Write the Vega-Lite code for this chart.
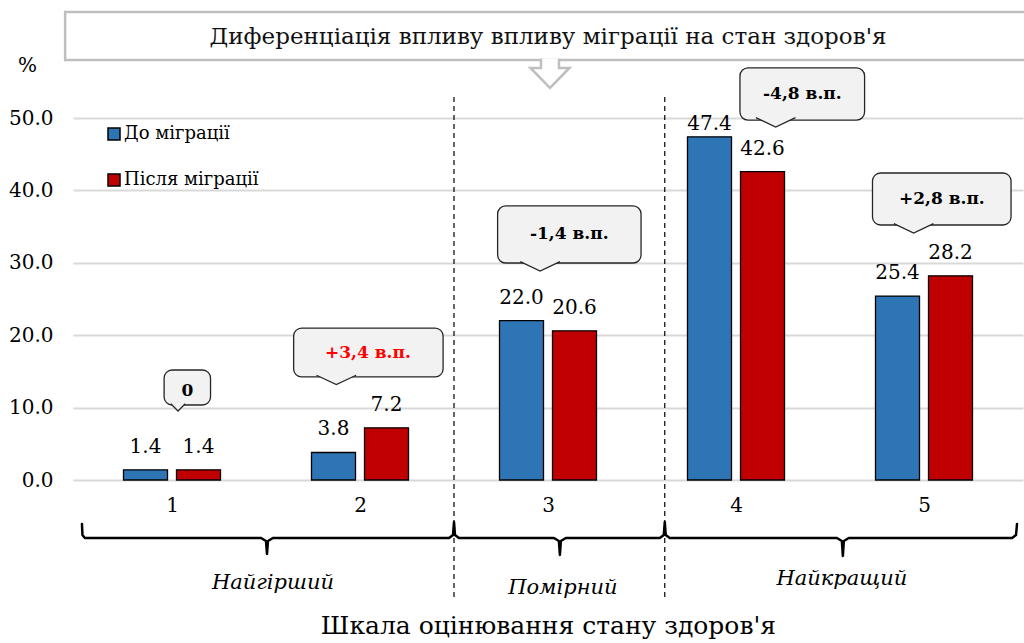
{
  "$schema": "https://vega.github.io/schema/vega-lite/v6.json",
  "width": 950,
  "height": 362,
  "autosize": {"type": "none"},
  "padding": {"left": 73, "top": 118, "right": 1, "bottom": 163},
  "config": {"view": {"stroke": null}, "font": "DejaVu Serif"},
  "resolve": {"axis": {"x": "independent", "y": "independent"}},
  "datasets": {
    "bars": [
      {"cat": 1, "series": "До міграції", "value": 1.4},
      {"cat": 1, "series": "Після міграції", "value": 1.4},
      {"cat": 2, "series": "До міграції", "value": 3.8},
      {"cat": 2, "series": "Після міграції", "value": 7.2},
      {"cat": 3, "series": "До міграції", "value": 22.0},
      {"cat": 3, "series": "Після міграції", "value": 20.6},
      {"cat": 4, "series": "До міграції", "value": 47.4},
      {"cat": 4, "series": "Після міграції", "value": 42.6},
      {"cat": 5, "series": "До міграції", "value": 25.4},
      {"cat": 5, "series": "Після міграції", "value": 28.2}
    ],
    "callouts": [
      {"label": "0", "x1": 0.958, "x2": 1.205, "y1": 15.19, "y2": 10.36, "tx": 1.082, "ty": 12.29, "px": 1.032, "py": 9.94},
      {"label": "+3,4  в.п.", "x1": 1.647, "x2": 2.442, "y1": 20.99, "y2": 14.23, "tx": 2.042, "ty": 17.61, "px": 1.874, "py": 13.74},
      {"label": "-1,4 в.п.", "x1": 2.732, "x2": 3.495, "y1": 37.85, "y2": 29.97, "tx": 3.113, "ty": 33.98, "px": 2.958, "py": 29.42},
      {"label": "-4,8 в.п.", "x1": 4.021, "x2": 4.684, "y1": 56.91, "y2": 49.72, "tx": 4.353, "ty": 53.38, "px": 4.211, "py": 49.31},
      {"label": "+2,8 в.п.", "x1": 4.726, "x2": 5.463, "y1": 42.40, "y2": 35.22, "tx": 5.095, "ty": 38.88, "px": 4.945, "py": 34.67}
    ],
    "braces": [
      {"o": 1, "bx": 0.5211, "by": -6.077},
      {"o": 2, "bx": 0.5237, "by": -7.597},
      {"o": 3, "bx": 0.5368, "by": -8.011},
      {"o": 4, "bx": 1.4737, "by": -8.011},
      {"o": 5, "bx": 1.5, "by": -8.425},
      {"o": 6, "bx": 1.5053, "by": -10.221},
      {"o": 7, "bx": 1.5105, "by": -8.425},
      {"o": 8, "bx": 1.5368, "by": -8.011},
      {"o": 9, "bx": 2.4737, "by": -8.011},
      {"o": 10, "bx": 2.4947, "by": -7.597},
      {"o": 11, "bx": 2.5, "by": -5.801},
      {"o": 12, "bx": 2.5053, "by": -7.597},
      {"o": 13, "bx": 2.5263, "by": -8.011},
      {"o": 14, "bx": 3.0316, "by": -8.011},
      {"o": 15, "bx": 3.0579, "by": -8.425},
      {"o": 16, "bx": 3.0632, "by": -10.359},
      {"o": 17, "bx": 3.0684, "by": -8.425},
      {"o": 18, "bx": 3.0947, "by": -8.011},
      {"o": 19, "bx": 3.5947, "by": -8.011},
      {"o": 20, "bx": 3.6158, "by": -7.597},
      {"o": 21, "bx": 3.6211, "by": -5.801},
      {"o": 22, "bx": 3.6263, "by": -7.597},
      {"o": 23, "bx": 3.6474, "by": -8.011},
      {"o": 24, "bx": 4.5368, "by": -8.011},
      {"o": 25, "bx": 4.5632, "by": -8.425},
      {"o": 26, "bx": 4.5684, "by": -10.497},
      {"o": 27, "bx": 4.5737, "by": -8.425},
      {"o": 28, "bx": 4.6, "by": -8.011},
      {"o": 29, "bx": 5.4684, "by": -8.011},
      {"o": 30, "bx": 5.4895, "by": -7.597},
      {"o": 31, "bx": 5.4947, "by": -6.077}
    ],
    "dividers": [
      {"dx": 2.5, "dy1": 52.9, "dy2": -16.57},
      {"dx": 3.6211, "dy1": 52.9, "dy2": -16.57}
    ],
    "groups": [
      {"label": "Найгірший", "gx": 1.5368, "gy": -14.23},
      {"label": "Помірний", "gx": 3.0789, "gy": -14.92},
      {"label": "Найкращий", "gx": 4.5632, "gy": -13.67}
    ],
    "title": [
      {"text": "Диференціація впливу впливу міграції на стан здоров'я", "x1": 0.4316, "x2": 5.54, "y1": 64.64, "y2": 58.01, "tx": 3.0, "ty": 61.19, "ax": 3.0105, "ay": 56.08}
    ]
  },
  "layer": [
    {
      "data": {"name": "bars"},
      "transform": [{"filter": "datum.series === 'До міграції'"}],
      "mark": {"type": "bar", "orient": "vertical", "width": 44, "xOffset": -26.5, "stroke": "#000", "strokeWidth": 1.3},
      "encoding": {
        "x": {
          "field": "cat", "type": "quantitative",
          "scale": {"domain": [0.5, 5.5], "nice": false, "zero": false},
          "axis": {
            "values": [1, 2, 3, 4, 5], "format": "d", "grid": false, "domain": false, "ticks": false,
            "labelFontSize": 20, "labelFont": "DejaVu Serif", "labelColor": "#000", "labelPadding": 15,
            "labelFlush": false, "labelOverlap": false,
            "title": "Шкала оцінювання стану здоров'я", "titleFontSize": 25, "titleFont": "DejaVu Serif",
            "titleFontWeight": "normal", "titleColor": "#000", "titleX": 475, "titleY": 153,
            "titleAlign": "center", "titleBaseline": "alphabetic"
          }
        },
        "y": {
          "field": "value", "type": "quantitative", "stack": null,
          "scale": {"domain": [0, 50], "nice": false, "zero": false},
          "axis": {
            "values": [0, 10, 20, 30, 40, 50], "format": ".1f", "grid": true, "gridColor": "#d9d9d9", "gridWidth": 2,
            "domain": false, "ticks": false, "labelFontSize": 20, "labelFont": "DejaVu Serif", "labelColor": "#000",
            "labelPadding": 20, "title": "%", "titleAngle": 0, "titleX": -46, "titleY": -53, "titleAlign": "center",
            "titleBaseline": "middle", "titleFontSize": 20, "titleFontWeight": "normal", "titleFont": "DejaVu Serif", "titleColor": "#000"
          }
        },
        "color": {
          "field": "series", "type": "nominal",
          "scale": {"domain": ["До міграції", "Після міграції"], "range": ["#2e75b6", "#c00000"]},
          "legend": {
            "title": null, "orient": "none", "legendX": 32, "legendY": 7, "direction": "vertical",
            "symbolType": "square", "symbolSize": 144, "symbolStrokeColor": "#000", "symbolStrokeWidth": 1.5, "symbolOpacity": 1,
            "labelFont": "DejaVu Serif", "labelFontSize": 18, "labelColor": "#000", "labelOffset": 1, "rowPadding": 28, "padding": 0
          }
        }
      }
    },
    {
      "data": {"name": "bars"},
      "transform": [{"filter": "datum.series === 'Після міграції'"}],
      "mark": {"type": "bar", "orient": "vertical", "width": 44, "xOffset": 26.5, "stroke": "#000", "strokeWidth": 1.3},
      "encoding": {
        "x": {"field": "cat", "type": "quantitative", "axis": null},
        "y": {"field": "value", "type": "quantitative", "stack": null, "axis": null},
        "color": {
          "field": "series", "type": "nominal",
          "scale": {"domain": ["До міграції", "Після міграції"], "range": ["#2e75b6", "#c00000"]},
          "legend": {
            "title": null, "orient": "none", "legendX": 32, "legendY": 7, "direction": "vertical",
            "symbolType": "square", "symbolSize": 144, "symbolStrokeColor": "#000", "symbolStrokeWidth": 1.5, "symbolOpacity": 1,
            "labelFont": "DejaVu Serif", "labelFontSize": 18, "labelColor": "#000", "labelOffset": 1, "rowPadding": 28, "padding": 0
          }
        }
      }
    },
    {
      "data": {"name": "bars"},
      "transform": [{"filter": "datum.series === 'До міграції' && datum.cat !== 4"}],
      "mark": {"type": "text", "dx": -26.5, "dy": -17, "baseline": "alphabetic", "align": "center", "fontSize": 20, "font": "DejaVu Serif", "color": "#000"},
      "encoding": {
        "x": {"field": "cat", "type": "quantitative", "axis": null},
        "y": {"field": "value", "type": "quantitative", "axis": null},
        "text": {"field": "value", "type": "quantitative", "format": ".1f"}
      }
    },
    {
      "data": {"name": "bars"},
      "transform": [{"filter": "datum.series === 'До міграції' && datum.cat === 4"}],
      "mark": {"type": "text", "dx": -26.5, "dy": -7, "baseline": "alphabetic", "align": "center", "fontSize": 20, "font": "DejaVu Serif", "color": "#000"},
      "encoding": {
        "x": {"field": "cat", "type": "quantitative", "axis": null},
        "y": {"field": "value", "type": "quantitative", "axis": null},
        "text": {"field": "value", "type": "quantitative", "format": ".1f"}
      }
    },
    {
      "data": {"name": "bars"},
      "transform": [{"filter": "datum.series === 'Після міграції'"}],
      "mark": {"type": "text", "dx": 26.5, "dy": -17, "baseline": "alphabetic", "align": "center", "fontSize": 20, "font": "DejaVu Serif", "color": "#000"},
      "encoding": {
        "x": {"field": "cat", "type": "quantitative", "axis": null},
        "y": {"field": "value", "type": "quantitative", "axis": null},
        "text": {"field": "value", "type": "quantitative", "format": ".1f"}
      }
    },
    {
      "data": {"name": "dividers"},
      "mark": {"type": "rule", "stroke": "#000", "strokeWidth": 1.2, "strokeDash": [5, 4]},
      "encoding": {
        "x": {"field": "dx", "type": "quantitative", "axis": null},
        "y": {"field": "dy1", "type": "quantitative", "axis": null},
        "y2": {"field": "dy2"}
      }
    },
    {
      "data": {"name": "braces"},
      "mark": {"type": "line", "stroke": "#000", "strokeWidth": 2.5, "strokeJoin": "round", "strokeCap": "round"},
      "encoding": {
        "x": {"field": "bx", "type": "quantitative", "axis": null},
        "y": {"field": "by", "type": "quantitative", "axis": null},
        "order": {"field": "o", "type": "quantitative"}
      }
    },
    {
      "data": {"name": "groups"},
      "mark": {"type": "text", "fontStyle": "italic", "fontSize": 21, "font": "DejaVu Serif", "baseline": "middle", "align": "center", "color": "#000"},
      "encoding": {
        "x": {"field": "gx", "type": "quantitative", "axis": null},
        "y": {"field": "gy", "type": "quantitative", "axis": null},
        "text": {"field": "label"}
      }
    },
    {
      "data": {"name": "callouts"},
      "mark": {"type": "rect", "fill": "#f2f2f2", "stroke": "#262626", "strokeWidth": 1.3, "cornerRadius": 8},
      "encoding": {
        "x": {"field": "x1", "type": "quantitative", "axis": null},
        "x2": {"field": "x2"},
        "y": {"field": "y1", "type": "quantitative", "axis": null},
        "y2": {"field": "y2"}
      }
    },
    {
      "data": {"name": "callouts"},
      "transform": [{"filter": "datum.label !== '0'"}],
      "mark": {"type": "point", "shape": "M-1.164,-0.312L0,0.235L1.164,-0.312", "size": 1156, "filled": true, "fill": "#f2f2f2", "stroke": "#262626", "strokeWidth": 1.3, "opacity": 1},
      "encoding": {
        "x": {"field": "px", "type": "quantitative", "axis": null},
        "y": {"field": "py", "type": "quantitative", "axis": null}
      }
    },
    {
      "data": {"name": "callouts"},
      "transform": [{"filter": "datum.label === '0'"}],
      "mark": {"type": "point", "shape": "M-1.2,-0.7L0,0.5L1.2,-0.7", "size": 144, "filled": true, "fill": "#f2f2f2", "stroke": "#262626", "strokeWidth": 1.3, "opacity": 1},
      "encoding": {
        "x": {"field": "px", "type": "quantitative", "axis": null},
        "y": {"field": "py", "type": "quantitative", "axis": null}
      }
    },
    {
      "data": {"name": "callouts"},
      "mark": {"type": "text", "fontWeight": "bold", "fontSize": 17, "font": "DejaVu Serif", "baseline": "middle", "align": "center"},
      "encoding": {
        "x": {"field": "tx", "type": "quantitative", "axis": null},
        "y": {"field": "ty", "type": "quantitative", "axis": null},
        "text": {"field": "label"},
        "color": {"condition": {"test": "datum.label === '+3,4  в.п.'", "value": "#ff0000"}, "value": "#000000"}
      }
    },
    {
      "data": {"name": "title"},
      "mark": {"type": "rect", "fill": "#ffffff", "stroke": "#bfbfbf", "strokeWidth": 2.5},
      "encoding": {
        "x": {"field": "x1", "type": "quantitative", "axis": null},
        "x2": {"field": "x2"},
        "y": {"field": "y1", "type": "quantitative", "axis": null},
        "y2": {"field": "y2"}
      }
    },
    {
      "data": {"name": "title"},
      "mark": {"type": "point", "shape": "M-0.4615,-0.785L-0.4615,-0.3077L-1,-0.3077L0,0.718L1,-0.3077L0.4615,-0.3077L0.4615,-0.785", "size": 1521, "filled": true, "fill": "#ffffff", "stroke": "#bfbfbf", "strokeWidth": 2.5, "opacity": 1},
      "encoding": {
        "x": {"field": "ax", "type": "quantitative", "axis": null},
        "y": {"field": "ay", "type": "quantitative", "axis": null}
      }
    },
    {
      "data": {"name": "title"},
      "mark": {"type": "text", "fontSize": 23, "font": "DejaVu Serif", "baseline": "middle", "align": "center", "color": "#111"},
      "encoding": {
        "x": {"field": "tx", "type": "quantitative", "axis": null},
        "y": {"field": "ty", "type": "quantitative", "axis": null},
        "text": {"field": "text"}
      }
    }
  ]
}
